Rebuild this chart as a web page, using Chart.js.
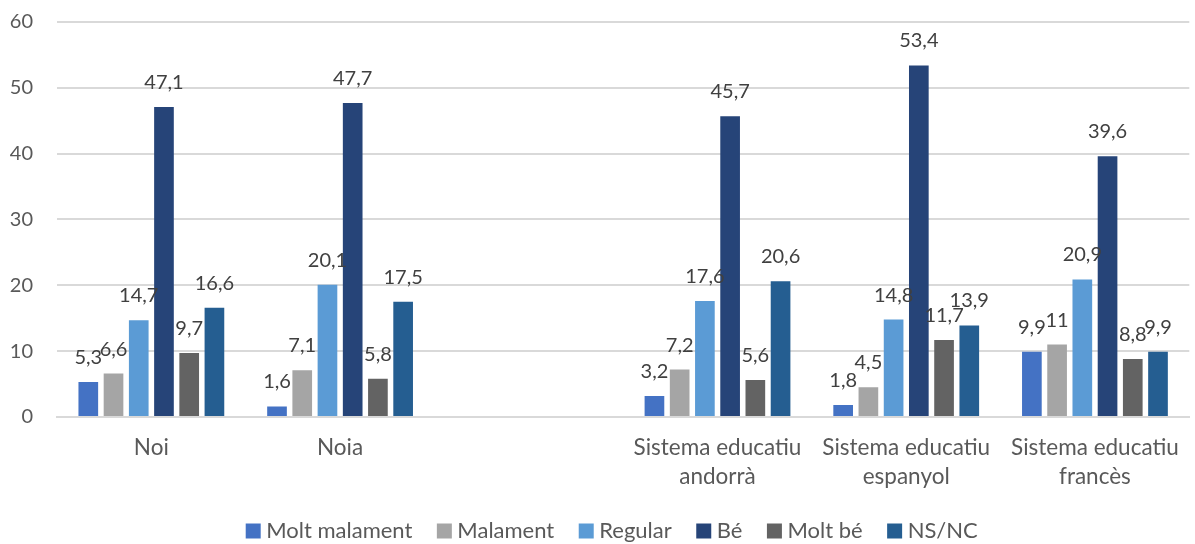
<!DOCTYPE html>
<html>
<head>
<meta charset="utf-8">
<script src="https://cdn.jsdelivr.net/npm/chart.js@4"></script>
<style>
  html, body { margin: 0; padding: 0; background: #fff; }
  #wrap { width: 1195px; height: 544px; }
</style>
</head>
<body>
<div id="wrap"><canvas id="chart" width="1195" height="544"></canvas></div>
<script>
// Categories (the empty one leaves a gap between gender and school system)
const categories = ['Noi', 'Noia', '', ['Sistema educatiu', 'andorrà'], ['Sistema educatiu', 'espanyol'], ['Sistema educatiu', 'francès']];

const moltMalament = [5.3, 1.6, null, 3.2, 1.8, 9.9];
const malament     = [6.6, 7.1, null, 7.2, 4.5, 11];
const regular      = [14.7, 20.1, null, 17.6, 14.8, 20.9];
const be           = [47.1, 47.7, null, 45.7, 53.4, 39.6];
const moltBe       = [9.7, 5.8, null, 5.6, 11.7, 8.8];
const nsnc         = [16.6, 17.5, null, 20.6, 13.9, 9.9];

const yTicks = [0, 10, 20, 30, 40, 50, 60];

const FONT = 'Lato, "Liberation Sans", sans-serif';

// Value labels above each bar, decimal comma
const valueLabels = {
    id: 'valueLabels',
    afterDatasetsDraw(chart) {
        const ctx = chart.ctx;
        ctx.save();
        ctx.font = '20px ' + FONT;
        ctx.fillStyle = '#404040';
        ctx.textAlign = 'center';
        ctx.textBaseline = 'alphabetic';
        chart.data.datasets.forEach((ds, i) => {
            chart.getDatasetMeta(i).data.forEach((bar, j) => {
                const v = ds.data[j];
                if (v === null) return;
                ctx.fillText(String(v).replace('.', ','), bar.x, bar.y - 18);
            });
        });
        ctx.restore();
    }
};

// the legend is kept short so the plot gets the height; grow its box back upwards
const legendShift = {
    id: 'legendShift',
    afterLayout(chart) {
        const lg = chart.legend;
        lg.left += 18;
        lg.right += 18;
        lg.top = 490;
        lg.bottom = 544;
        lg.height = 54;
    }
};

const mk = (label, data, color) => ({
    label: label,
    data: data,
    backgroundColor: color,
    borderWidth: 0,
    barPercentage: 0.78,
    categoryPercentage: 0.802
});

new Chart(document.getElementById('chart'), {
    type: 'bar',
    data: {
        labels: categories,
        datasets: [
            mk('Molt malament', moltMalament, '#4472C4'),
            mk('Malament', malament, '#A5A5A5'),
            mk('Regular', regular, '#5B9BD5'),
            mk('Bé', be, '#264478'),
            mk('Molt bé', moltBe, '#636363'),
            mk('NS/NC', nsnc, '#255E91')
        ]
    },
    options: {
        responsive: false,
        animation: false,
        layout: { padding: { top: 22, right: 2, left: 0, bottom: 0 } },
        plugins: {
            legend: {
                position: 'bottom',
                maxHeight: 37,
                labels: {
                    font: { family: FONT, size: 22 },
                    color: '#595959',
                    usePointStyle: true,
                    pointStyle: 'rect',
                    boxWidth: 4,
                    boxHeight: 15,
                    padding: 30
                }
            },
            tooltip: { enabled: false }
        },
        scales: {
            y: {
                min: 0,
                max: 60,
                afterBuildTicks: scale => { scale.ticks = yTicks.map(v => ({ value: v })); },
                afterFit: scale => { scale.width = 57; },
                grid: { color: '#D9D9D9', lineWidth: 2, tickLength: 24, tickColor: 'rgba(0,0,0,0)' },
                border: { display: false },
                ticks: {
                    font: { family: FONT, size: 20 },
                    color: '#595959',
                    padding: 0
                }
            },
            x: {
                grid: { display: false, drawTicks: false },
                border: { color: '#D9D9D9', width: 2 },
                ticks: {
                    font: { family: FONT, size: 22.5, lineHeight: 1.29 },
                    color: '#595959',
                    padding: 16,
                    maxRotation: 0,
                    autoSkip: false
                }
            }
        }
    },
    plugins: [valueLabels, legendShift]
});
</script>
</body>
</html>
